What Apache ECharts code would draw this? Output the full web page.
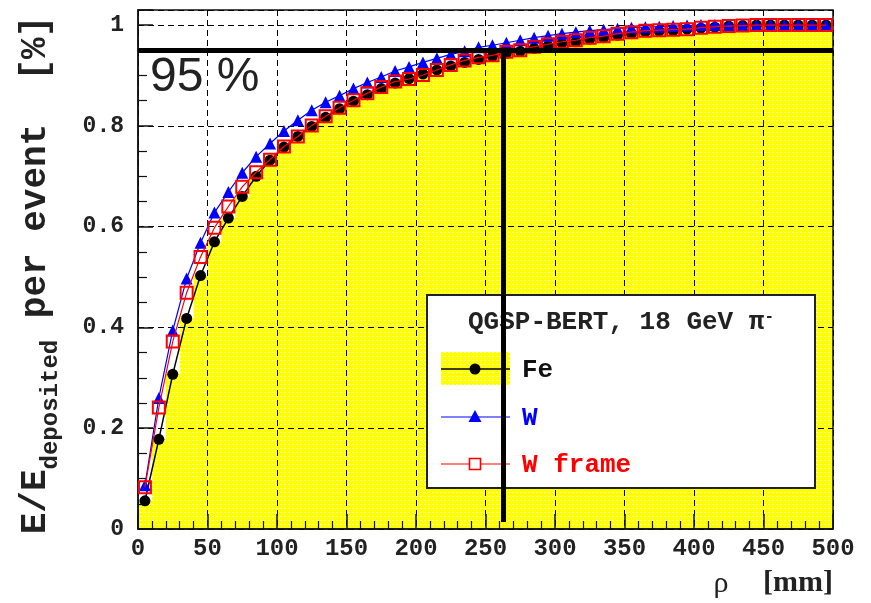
<!DOCTYPE html>
<html>
<head>
<meta charset="utf-8">
<script src="https://cdn.jsdelivr.net/npm/echarts@6/dist/echarts.min.js"></script>
<style>
  html, body { margin: 0; padding: 0; background: #ffffff; }
  #chart { width: 871px; height: 603px; }
</style>
</head>
<body>
<div id="chart"></div>
<script>
// Radial bins (bin centres, mm)
const rho = [5, 15, 25, 35, 45, 55, 65, 75, 85, 95,
             105, 115, 125, 135, 145, 155, 165, 175, 185, 195,
             205, 215, 225, 235, 245, 255, 265, 275, 285, 295,
             305, 315, 325, 335, 345, 355, 365, 375, 385, 395,
             405, 415, 425, 435, 445, 455, 465, 475, 485, 495];
const binWidth = 10;

// Cumulative deposited-energy fraction inside radius rho
const fe = [0.056, 0.178, 0.307, 0.418, 0.503, 0.570, 0.617, 0.660, 0.700, 0.732,
            0.758, 0.779, 0.799, 0.817, 0.834, 0.849, 0.862, 0.874, 0.885, 0.894,
            0.903, 0.911, 0.919, 0.926, 0.932, 0.938, 0.944, 0.948, 0.954, 0.959,
            0.964, 0.967, 0.972, 0.975, 0.980, 0.983, 0.987, 0.988, 0.989, 0.992,
            0.994, 0.996, 0.998, 0.999, 1.000, 1.000, 1.000, 1.000, 1.000, 1.000];
const w  = [0.087, 0.260, 0.394, 0.497, 0.568, 0.628, 0.669, 0.707, 0.739, 0.765,
            0.790, 0.811, 0.831, 0.847, 0.860, 0.874, 0.886, 0.897, 0.909, 0.917,
            0.926, 0.934, 0.942, 0.948, 0.956, 0.960, 0.965, 0.970, 0.975, 0.979,
            0.983, 0.986, 0.989, 0.991, 0.993, 0.995, 0.996, 0.997, 0.998, 0.999,
            1.000, 1.000, 1.000, 1.000, 1.000, 1.000, 1.000, 1.000, 1.000, 1.000];
const wFrame = [0.083, 0.241, 0.372, 0.469, 0.540, 0.598, 0.640, 0.679, 0.708, 0.733,
                0.759, 0.779, 0.801, 0.819, 0.836, 0.851, 0.865, 0.877, 0.888, 0.893,
                0.901, 0.911, 0.921, 0.930, 0.936, 0.940, 0.947, 0.950, 0.957, 0.962,
                0.967, 0.970, 0.975, 0.978, 0.983, 0.986, 0.989, 0.990, 0.991, 0.992,
                0.995, 0.997, 0.998, 0.999, 1.000, 1.000, 1.000, 1.000, 1.000, 1.000];

// 95 % containment guide
const level95 = 0.95;
const rho95 = 263;
const guideBottom = 0.014;

// Texts
const seriesNames = ['Fe', 'W', 'W frame'];
const legendHeader = 'QGSP-BERT, 18 GeV π';
const xTitleSymbol = 'ρ';
const xTitleUnit = '[mm]';
const levelText = '95 %';

const mono = '"Liberation Mono", "DejaVu Sans Mono", monospace';

// Yellow fill with a faint dotted texture
function dottedYellow() {
  const c = document.createElement('canvas');
  c.width = 4; c.height = 4;
  const g = c.getContext('2d');
  g.fillStyle = '#ffff00';
  g.fillRect(0, 0, 4, 4);
  g.fillStyle = '#ffffa8';
  g.fillRect(0, 0, 2, 1);
  return c;
}
const yellowFill = { image: dottedYellow(), repeat: 'repeat' };

// Histogram outline (step) for the Fe fill
const feSteps = [];
rho.forEach((x, i) => {
  feSteps.push([x - binWidth / 2, fe[i]]);
  feSteps.push([x + binWidth / 2, fe[i]]);
});

const pairs = arr => rho.map((x, i) => [x, arr[i]]);

const chart = echarts.init(document.getElementById('chart'), null, { renderer: 'canvas' });

const axisColor = '#111';

const option = {
  animation: false,
  backgroundColor: '#ffffff',
  grid: {
    left: 138, right: 38, top: 10, bottom: 74,
    show: true, borderColor: axisColor, borderWidth: 1.5,
    backgroundColor: 'transparent'
  },
  xAxis: {
    type: 'value', min: 0, max: 500, interval: 50,
    axisLine: { show: true, onZero: false, lineStyle: { color: axisColor, width: 1.5 } },
    axisTick: { show: true, inside: true, length: 15, lineStyle: { color: axisColor, width: 1.5 } },
    minorTick: { show: true, splitNumber: 5, length: 8, lineStyle: { color: axisColor, width: 1.2 } },
    splitLine: { show: true, lineStyle: { color: '#000', width: 1, type: [6, 4] } },
    axisLabel: {
      fontFamily: mono, fontWeight: 'bold', fontSize: 24, color: '#222', margin: 8
    }
  },
  yAxis: {
    type: 'value', min: 0, max: 1.03, interval: 0.2,
    axisLine: { show: true, onZero: false, lineStyle: { color: axisColor, width: 1.5 } },
    axisTick: { show: true, inside: true, length: 15, lineStyle: { color: axisColor, width: 1.5 } },
    minorTick: { show: true, splitNumber: 4, length: 9, lineStyle: { color: axisColor, width: 1.2 } },
    splitLine: { show: true, lineStyle: { color: '#000', width: 1, type: [6, 4] } },
    axisLabel: {
      fontFamily: mono, fontWeight: 'bold', fontSize: 23, color: '#222', margin: 14,
      showMaxLabel: false,
      formatter: v => (v === 0 ? '0' : (Math.abs(v - 1) < 1e-9 ? '1' : v.toFixed(1)))
    }
  },
  series: [
    {
      name: 'Fe fill', type: 'line', data: feSteps, showSymbol: false, silent: true,
      lineStyle: { width: 0 }, areaStyle: { color: yellowFill, opacity: 1 },
      z: -1
    },
    {
      name: seriesNames[0], type: 'line', data: pairs(fe),
      symbol: 'circle', symbolSize: 11,
      itemStyle: { color: '#000000' },
      lineStyle: { color: '#000000', width: 1.5 },
      z: 3
    },
    {
      name: seriesNames[1], type: 'line', data: pairs(w),
      symbol: 'triangle', symbolSize: 12,
      itemStyle: { color: '#0000ff' },
      lineStyle: { color: '#0000ff', width: 1.2 },
      z: 4
    },
    {
      name: seriesNames[2], type: 'line', data: pairs(wFrame),
      symbol: 'rect', symbolSize: 12,
      itemStyle: { color: 'rgba(0,0,0,0)', borderColor: '#ff0000', borderWidth: 2 },
      lineStyle: { color: '#ff0000', width: 1.2 },
      z: 5,
      markLine: {
        silent: true, z: 30, symbol: ['none', 'none'],
        label: { show: false },
        lineStyle: { color: '#000000', width: 5, type: 'solid' },
        data: [
          { yAxis: level95 },
          [{ coord: [rho95, level95] }, { coord: [rho95, guideBottom] }]
        ]
      }
    }
  ],
  graphic: [
    // y-axis title
    {
      type: 'text', x: 40, y: 275, rotation: Math.PI / 2, z: 10,
      style: {
        text: '{b|E/E}{s|deposited}{b| per event  [%]}',
        align: 'center', verticalAlign: 'middle',
        rich: {
          b: { fontFamily: mono, fontWeight: 'bold', fontSize: 36, fill: '#222', verticalAlign: 'bottom', padding: [0, 0, 9, 0] },
          s: { fontFamily: mono, fontWeight: 'bold', fontSize: 24, fill: '#222', verticalAlign: 'bottom' }
        }
      }
    },
    // x-axis title
    {
      type: 'text', x: 721, y: 584, z: 10,
      style: { text: xTitleSymbol, font: '30px "Liberation Serif", serif', fill: '#222', align: 'center', verticalAlign: 'middle' }
    },
    {
      type: 'text', x: 833, y: 583, z: 10,
      style: { text: xTitleUnit, font: 'bold 30px "Liberation Serif", serif', fill: '#222', align: 'right', verticalAlign: 'middle' }
    },
    // level label
    {
      type: 'text', x: 150, y: 78, z: 10,
      style: { text: levelText, font: '48px "Liberation Sans", Arial, sans-serif', fill: '#222', align: 'left', verticalAlign: 'middle' }
    },
    // legend box
    {
      type: 'group', z: 10,
      children: [
        { type: 'rect', z: 10, shape: { x: 427, y: 295, width: 388, height: 193 }, style: { fill: '#ffffff', stroke: '#222', lineWidth: 2 } },
        {
          type: 'text', z: 11, x: 621, y: 322,
          style: {
            text: '{t|' + legendHeader + '}{p|-}',
            align: 'center', verticalAlign: 'middle',
            rich: {
              t: { fontFamily: mono, fontWeight: 'bold', fontSize: 26, fill: '#222', verticalAlign: 'bottom' },
              p: { fontFamily: mono, fontWeight: 'bold', fontSize: 16, fill: '#222', verticalAlign: 'top' }
            }
          }
        },
        // Fe entry
        { type: 'rect', z: 11, shape: { x: 441, y: 352, width: 69, height: 33 }, style: { fill: yellowFill } },
        { type: 'line', z: 12, shape: { x1: 441, y1: 369, x2: 510, y2: 369 }, style: { stroke: '#000', lineWidth: 1.5 } },
        { type: 'circle', z: 12, shape: { cx: 475, cy: 369, r: 5.5 }, style: { fill: '#000' } },
        { type: 'text', z: 12, x: 522, y: 370, style: { text: seriesNames[0], font: 'bold 26px ' + mono, fill: '#111', verticalAlign: 'middle' } },
        // W entry
        { type: 'line', z: 12, shape: { x1: 441, y1: 417, x2: 510, y2: 417 }, style: { stroke: '#0000ff', lineWidth: 1.2 } },
        { type: 'polygon', z: 12, shape: { points: [[475, 410], [481.5, 422], [468.5, 422]] }, style: { fill: '#0000ff' } },
        { type: 'text', z: 12, x: 522, y: 418, style: { text: seriesNames[1], font: 'bold 26px ' + mono, fill: '#0000ff', verticalAlign: 'middle' } },
        // W frame entry
        { type: 'line', z: 12, shape: { x1: 441, y1: 464, x2: 510, y2: 464 }, style: { stroke: '#ff0000', lineWidth: 1.2 } },
        { type: 'rect', z: 12, shape: { x: 469.5, y: 458.5, width: 11, height: 11 }, style: { fill: '#ffffff', stroke: '#ff0000', lineWidth: 1.6 } },
        { type: 'text', z: 12, x: 522, y: 465, style: { text: seriesNames[2], font: 'bold 26px ' + mono, fill: '#ff0000', verticalAlign: 'middle' } }
      ]
    }
  ]
};

chart.setOption(option);
</script>
</body>
</html>
